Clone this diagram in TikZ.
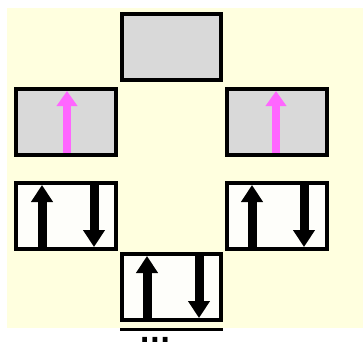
\documentclass[tikz,border=0pt]{standalone}
\usepackage{fontspec}
\newfontfamily\dotsfont{DejaVu Sans}
\usetikzlibrary{arrows.meta}
\definecolor{bgyel}{HTML}{FFFFDF}
\definecolor{boxgray}{HTML}{D9D9D9}
\definecolor{boxwhite}{HTML}{FEFEFA}
\definecolor{pinkarrow}{HTML}{FF66FF}
\tikzset{
  graybox/.style={draw=black, line width=3.2pt, fill=boxgray},
  whitebox/.style={draw=black, line width=3.2pt, fill=boxwhite},
  blackarrow/.style={line width=9pt, -{Triangle[length=17pt,width=21pt]}, black},
  pinkarr/.style={line width=8pt, -{Triangle[length=15pt,width=20pt]}, pinkarrow},
}
\begin{document}
\begin{tikzpicture}[x=1pt,y=-1pt]
\useasboundingbox (0,0) rectangle (363,342);
\clip (0,0) rectangle (363,342);
\fill[white] (0,0) rectangle (363,342);
\fill[bgyel] (7,8) rectangle (363,328);
% boxes
\draw[graybox] (122,14) rectangle (221,80);
\draw[graybox] (16,89) rectangle (116,155);
\draw[graybox] (227,89) rectangle (327,155);
\draw[whitebox] (16,183) rectangle (116,249);
\draw[whitebox] (227,183) rectangle (327,249);
\draw[whitebox] (122,254) rectangle (221,320);
% top edge of the next (cut-off) box
\coordinate (nl) at (120.4,329.5);
\coordinate (nr) at (222.6,329.5);
\draw[line width=3.2pt] (nl) -- (nr);
% coordinates for arrows
\coordinate (p1s) at (67,153); \coordinate (p1e) at (67,91);
\coordinate (p2s) at (276,153); \coordinate (p2e) at (276,91);
\coordinate (a1s) at (42,247); \coordinate (a1e) at (42,185);
\coordinate (a2s) at (94,185); \coordinate (a2e) at (94,247);
\coordinate (a3s) at (252,247); \coordinate (a3e) at (252,185);
\coordinate (a4s) at (304,185); \coordinate (a4e) at (304,247);
\coordinate (a5s) at (147,318); \coordinate (a5e) at (147,256);
\coordinate (a6s) at (199,256); \coordinate (a6e) at (199,318);
\draw[pinkarr] (p1s) -- (p1e);
\draw[pinkarr] (p2s) -- (p2e);
\draw[blackarrow] (a1s) -- (a1e);
\draw[blackarrow] (a2s) -- (a2e);
\draw[blackarrow] (a3s) -- (a3e);
\draw[blackarrow] (a4s) -- (a4e);
\draw[blackarrow] (a5s) -- (a5e);
\draw[blackarrow] (a6s) -- (a6e);
\node[anchor=base, inner sep=0pt, font=\dotsfont\fontsize{27}{27}\selectfont\bfseries] (dots) at (155,342) {...};
\end{tikzpicture}
\end{document}
